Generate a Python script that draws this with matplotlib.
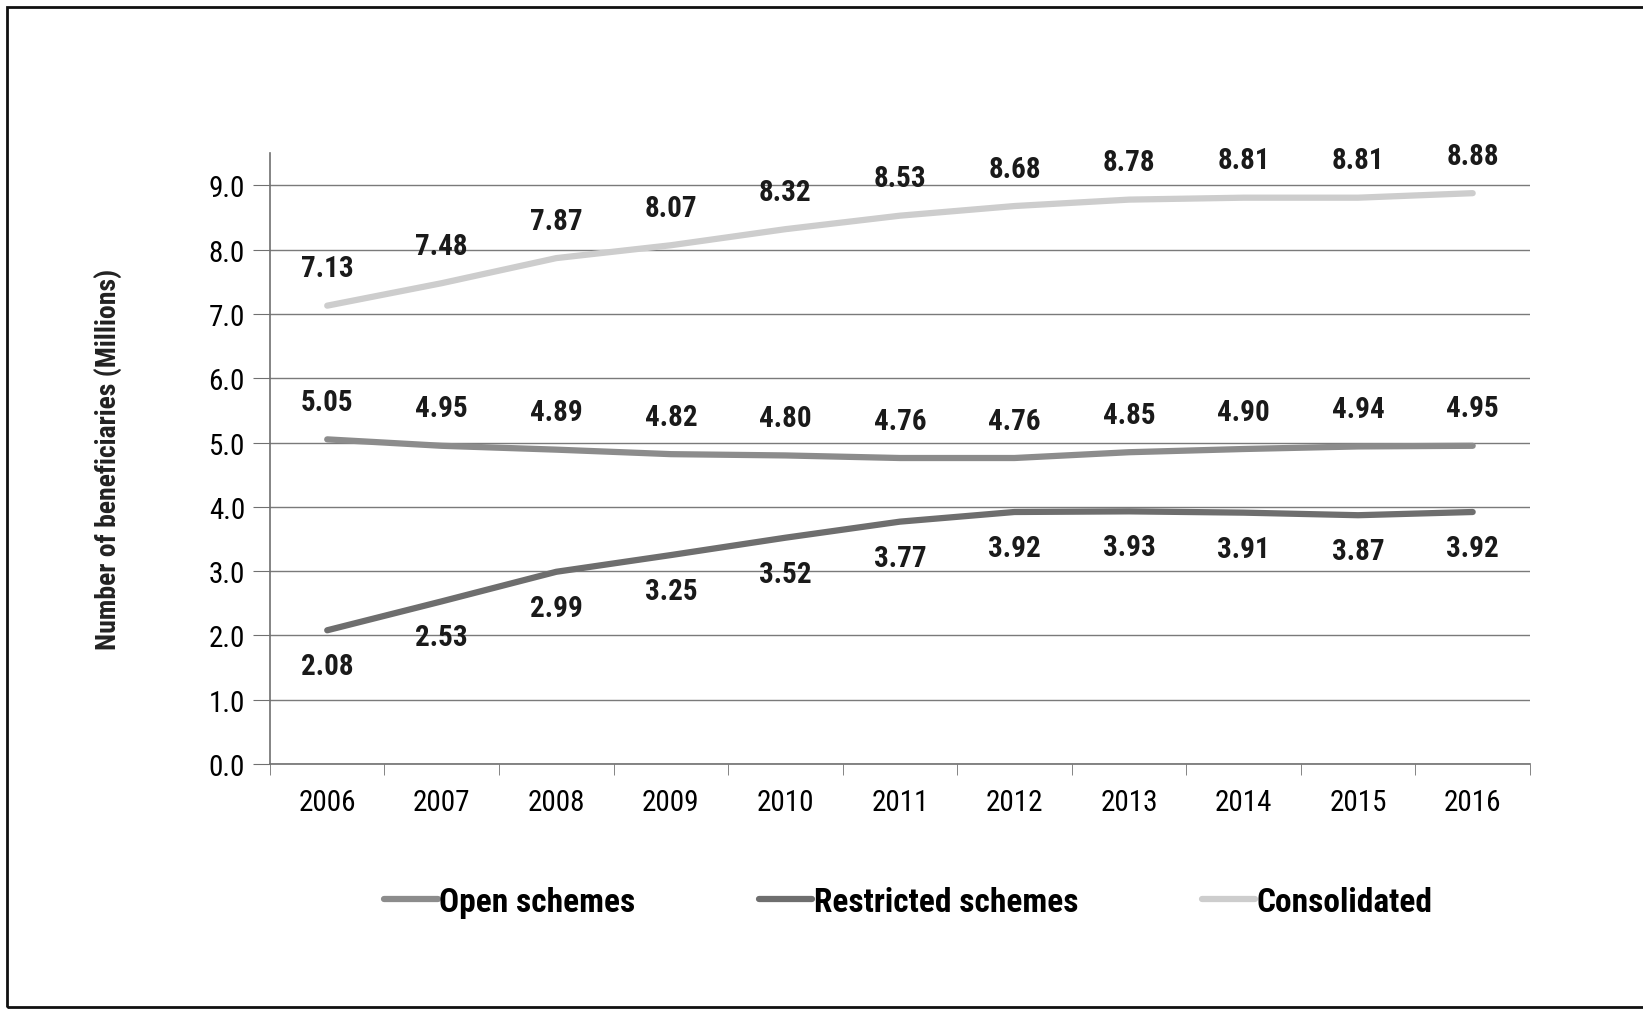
import matplotlib.pyplot as plt
from matplotlib.patches import Rectangle

years = ['2006', '2007', '2008', '2009', '2010', '2011', '2012', '2013', '2014', '2015', '2016']
open_schemes = [5.05, 4.95, 4.89, 4.82, 4.80, 4.76, 4.76, 4.85, 4.90, 4.94, 4.95]
restricted_schemes = [2.08, 2.53, 2.99, 3.25, 3.52, 3.77, 3.92, 3.93, 3.91, 3.87, 3.92]
consolidated = [7.13, 7.48, 7.87, 8.07, 8.32, 8.53, 8.68, 8.78, 8.81, 8.81, 8.88]

plt.rcParams['font.family'] = ['Roboto Condensed', 'PT Sans Narrow', 'DejaVu Sans']

fig = plt.figure(figsize=(16.43, 10.12), dpi=100)
ax = fig.add_axes([0.1643, 0.2441, 0.7669, 0.6034])

x = list(range(len(years)))
ax.plot(x, open_schemes, color='#8c8c8c', linewidth=4.5, label='Open schemes', solid_capstyle='round')
ax.plot(x, restricted_schemes, color='#6e6e6e', linewidth=4.5, label='Restricted schemes', solid_capstyle='round')
ax.plot(x, consolidated, color='#cdcdcd', linewidth=4.5, label='Consolidated', solid_capstyle='round')

# value labels: above for open / consolidated, below for restricted
lab = dict(ha='center', va='center', fontsize=21, fontweight='bold', color='#1a1a1a',
           textcoords='offset points')
for i in x:
    ax.annotate(f'{open_schemes[i]:.2f}', (i, open_schemes[i]), xytext=(0, 27), **lab)
    ax.annotate(f'{restricted_schemes[i]:.2f}', (i, restricted_schemes[i]), xytext=(0, -26), **lab)
    ax.annotate(f'{consolidated[i]:.2f}', (i, consolidated[i]), xytext=(0, 27), **lab)

ax.set_xlim(-0.5, len(years) - 0.5)
ax.set_ylim(0, 9.5)
ax.set_yticks([i * 1.0 for i in range(10)])
ax.set_yticklabels([f'{i:.1f}' for i in range(10)], fontsize=21)
ax.set_xticks(x)
ax.set_xticklabels(years, fontsize=21)
ax.set_xticks([i - 0.5 for i in range(len(years) + 1)], minor=True)
ax.tick_params(axis='x', which='major', length=0, pad=17)
ax.tick_params(axis='x', which='minor', length=8, color='#707070', direction='out')
ax.tick_params(axis='y', length=12, color='#707070', direction='out', pad=6)
ax.grid(axis='y', color='#7a7a7a', linewidth=1)
ax.set_axisbelow(True)
for side in ['top', 'right']:
    ax.spines[side].set_visible(False)
for side in ['left', 'bottom']:
    ax.spines[side].set_color('#707070')
    ax.spines[side].set_linewidth(1.2)

ax.set_ylabel('Number of beneficiaries (Millions)', fontsize=20, fontweight='bold',
              color='#222222', labelpad=62)

fig.legend(loc='center', bbox_to_anchor=(0.553, 0.108), ncol=3, frameon=False,
           prop={'size': 24, 'weight': 'bold'}, handlelength=1.6, handletextpad=0.05,
           columnspacing=3.7)

# outer frame
fig.patches.append(Rectangle((0.0045, 0.004), 1.2, 0.988, transform=fig.transFigure,
                             fill=False, edgecolor='#111111', linewidth=2))

fig.savefig('out.png', dpi=100, facecolor='white')
